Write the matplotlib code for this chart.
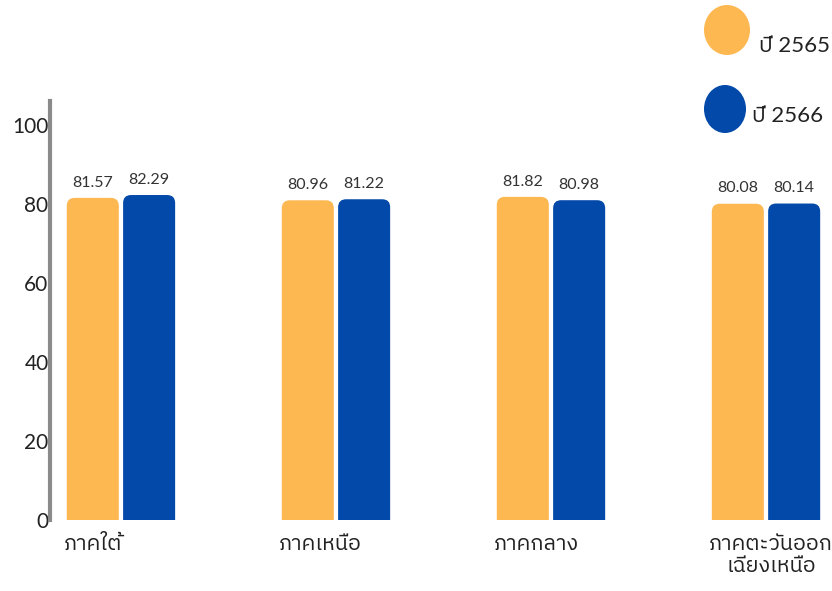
import matplotlib
matplotlib.use("Agg")
import matplotlib.pyplot as plt
from matplotlib.patches import FancyBboxPatch, Ellipse
import numpy as np

plt.rcParams['font.family'] = ['Lato', 'IBM Plex Sans Thai', 'DejaVu Sans']

# data
regions = ["ภาคใต้", "ภาคเหนือ", "ภาคกลาง", "ภาคตะวันออก\nเฉียงเหนือ"]
year_labels = ["ปี 2565", "ปี 2566"]
values_2565 = [81.57, 80.96, 81.82, 80.08]
values_2566 = [82.29, 81.22, 80.98, 80.14]
y_ticks = [0, 20, 40, 60, 80, 100]

orange = "#FDB852"
blue = "#0349A9"

fig = plt.figure(figsize=(8.32, 5.91), dpi=100)
ax = fig.add_axes([50 / 832, 71 / 591, 782 / 832, 419 / 591])

x = np.arange(len(regions))
width = 0.242
offset = 0.131
# x-unit / y-unit pixel ratio so the rounded tops stay round
aspect = 215 / 3.95

for vals, col, sh in [(values_2565, orange, -offset), (values_2566, blue, offset)]:
    for xi, v in zip(x, vals):
        p = FancyBboxPatch((xi + sh - width / 2, -6), width, v + 6,
                           boxstyle="round,pad=0,rounding_size=0.037",
                           mutation_aspect=aspect, facecolor=col,
                           edgecolor="none")
        ax.add_patch(p)
        ax.annotate(f"{v:.2f}", (xi + sh, v), xytext=(0, 6),
                    textcoords="offset points", ha="center", va="bottom",
                    fontsize=11.5, color="#333333")

ax.set_xlim(-0.330, 3.307)
ax.set_ylim(0, 106.1)
ax.set_yticks(y_ticks)
ax.set_yticklabels([str(t) for t in y_ticks], fontsize=15, color="#222222")
ax.tick_params(axis="y", length=0, pad=1)
ax.set_xticks([])

for s in ["top", "right", "bottom"]:
    ax.spines[s].set_visible(False)
ax.spines["left"].set_color("#8a8a8a")
ax.spines["left"].set_linewidth(3)

# region labels under the bars
for xi, name in zip(x, regions):
    ax.annotate(name, (xi - offset - width / 2, 0), xycoords=("data", "axes fraction"),
                xytext=(-2, -10), textcoords="offset points", ha="left", va="top",
                multialignment="center", fontsize=15.5, color="#222222",
                linespacing=1.15)

# legend drawn in pixel space
lg = fig.add_axes([0, 0, 1, 1], zorder=5)
lg.set_xlim(0, 832)
lg.set_ylim(591, 0)
lg.axis("off")
lg.patch.set_alpha(0)
lg.add_patch(Ellipse((727, 30), 46, 50, facecolor=orange, edgecolor="none"))
lg.add_patch(Ellipse((725, 109), 42, 48, facecolor=blue, edgecolor="none"))
lg.text(759, 46, year_labels[0], fontsize=16, va="center", ha="left", color="#222222")
lg.text(752, 116, year_labels[1], fontsize=16, va="center", ha="left", color="#222222")

fig.savefig("out.png", dpi=100)
